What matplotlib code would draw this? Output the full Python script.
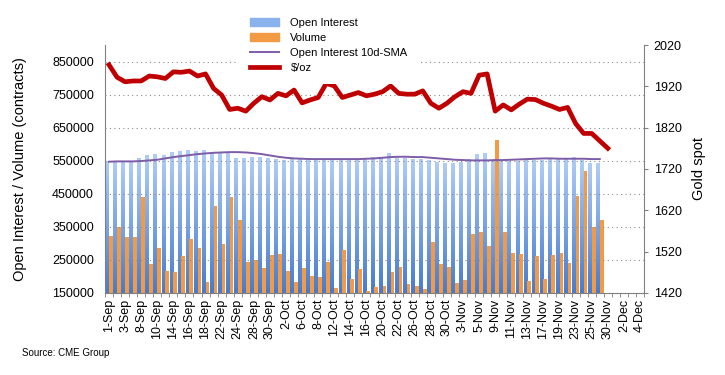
import numpy as np
import matplotlib.pyplot as plt
from matplotlib.colors import LinearSegmentedColormap
from matplotlib.patches import Patch
from matplotlib.lines import Line2D

plt.rcParams['font.family'] = ['Liberation Sans', 'DejaVu Sans']

# trading days shown on the category axis
dates = ['1-Sep', '2-Sep', '3-Sep', '4-Sep', '8-Sep', '9-Sep', '10-Sep', '11-Sep', '14-Sep', '15-Sep',
         '16-Sep', '17-Sep', '18-Sep', '21-Sep', '22-Sep', '23-Sep', '24-Sep', '25-Sep', '28-Sep', '29-Sep',
         '30-Sep', '1-Oct', '2-Oct', '5-Oct', '6-Oct', '7-Oct', '8-Oct', '9-Oct', '12-Oct', '13-Oct',
         '14-Oct', '15-Oct', '16-Oct', '19-Oct', '20-Oct', '21-Oct', '22-Oct', '23-Oct', '26-Oct', '27-Oct',
         '28-Oct', '29-Oct', '30-Oct', '2-Nov', '3-Nov', '4-Nov', '5-Nov', '6-Nov', '9-Nov', '10-Nov',
         '11-Nov', '12-Nov', '13-Nov', '16-Nov', '17-Nov', '18-Nov', '19-Nov', '20-Nov', '23-Nov', '24-Nov',
         '25-Nov', '27-Nov', '30-Nov', '1-Dec', '2-Dec', '3-Dec', '4-Dec']

open_interest = [548000, 548000, 549000, 548000, 556000, 565000, 568000, 567000, 574000, 577000,
                 580000, 577000, 580000, 573000, 574000, 572000, 558000, 558000, 561000, 561000,
                 556000, 555000, 551000, 553000, 556000, 550000, 555000, 555000, 555000, 554000,
                 554000, 554000, 555000, 561000, 561000, 571000, 558000, 558000, 555000, 553000,
                 551000, 545000, 541000, 541000, 545000, 553000, 568000, 571000, 551000, 548000,
                 548000, 548000, 551000, 551000, 551000, 553000, 555000, 555000, 560000, 551000,
                 543000, 543000]

volume = [321000, 351000, 318000, 319000, 439000, 238000, 285000, 218000, 212000, 262000,
          314000, 285000, 184000, 412000, 298000, 440000, 372000, 244000, 250000, 227000,
          265000, 269000, 218000, 183000, 225000, 201000, 199000, 245000, 166000, 280000,
          193000, 224000, 155000, 169000, 171000, 212000, 230000, 177000, 171000, 162000,
          305000, 238000, 230000, 181000, 189000, 328000, 333000, 293000, 613000, 334000,
          272000, 268000, 187000, 262000, 192000, 265000, 272000, 242000, 444000, 520000,
          351000, 371000]

oi_sma = [547000, 548000, 548000, 548000, 549000, 551000, 553000, 557000, 561000, 564000,
          567000, 570000, 572000, 574000, 575000, 576000, 576000, 575000, 573000, 570000,
          566000, 562000, 559000, 557000, 556000, 555000, 555000, 555000, 555000, 555000,
          555000, 555000, 556000, 557000, 559000, 561000, 562000, 562000, 561000, 561000,
          559000, 557000, 555000, 553000, 552000, 551000, 551000, 551000, 552000, 552000,
          553000, 554000, 555000, 556000, 557000, 557000, 556000, 556000, 556000, 556000,
          555000, 555000]

gold = [1972, 1942, 1931, 1933, 1933, 1945, 1943, 1939, 1955, 1954,
        1957, 1945, 1950, 1915, 1899, 1864, 1867, 1860, 1879, 1895,
        1887, 1903, 1897, 1911, 1880, 1887, 1893, 1927, 1921, 1893,
        1899, 1905, 1897, 1901, 1907, 1921, 1903, 1901, 1901, 1909,
        1879, 1867, 1879, 1895, 1907, 1903, 1947, 1950, 1860, 1875,
        1863, 1877, 1889, 1888, 1879, 1872, 1864, 1869, 1830, 1806,
        1806, 1788, 1770]

fig = plt.figure(figsize=(7.25, 3.75), dpi=100)
ax = fig.add_axes([0.1448, 0.2187, 0.7435, 0.6613])
ax2 = ax.twinx()

x = np.arange(len(dates))
n = len(open_interest)
w = 0.47
ymin, ymax = 150000, 900000

# open interest bars with a vertical blue gradient
blue_cmap = LinearSegmentedColormap.from_list('oi', ['#457bd0', '#b0cdf5'])
grad = np.linspace(1, 0, 256).reshape(-1, 1)
bars = ax.bar(x[:n] - w / 2, open_interest, width=w, color='none', zorder=2)
for b in bars:
    x0 = b.get_x()
    ax.imshow(grad, extent=[x0, x0 + w, ymin, b.get_height()], aspect='auto',
              cmap=blue_cmap, vmin=0, vmax=1, zorder=1.9, interpolation='bilinear')

ax.bar(x[:n] + w / 2, volume, width=w, color='#f39a44', zorder=2)
ax.plot(x[:n], oi_sma, color='#7d5ca8', lw=1.4, zorder=4)
ax2.plot(x[:len(gold)], gold, color='#c00000', lw=3.4, solid_joinstyle='round', zorder=5)

ax.set_xlim(-0.5, len(dates) - 0.5)
ax.set_ylim(ymin, ymax)
ax.set_yticks(np.arange(150000, 850001, 100000))
ax2.set_ylim(1420, 2020)
ax2.set_yticks(np.arange(1420, 2021, 100))

ax.set_axisbelow(False)
ax.yaxis.grid(True, linestyle=(0, (1, 3)), color='#8c8c8c', lw=0.8)

ax.set_xticks(x[::2])
ax.set_xticklabels(dates[::2], rotation=90, fontsize=9)
ax.set_xticks(np.arange(-0.5, len(dates), 1), minor=True)
ax.tick_params(axis='x', which='major', length=0, pad=4)
ax.tick_params(axis='x', which='minor', length=3, color='#808080')
ax.tick_params(axis='y', length=0, pad=8, labelsize=9)
ax2.tick_params(axis='y', length=3, pad=4, labelsize=9, color='#808080')

for s in ['top', 'right']:
    ax.spines[s].set_visible(False)
ax2.spines['top'].set_visible(False)
ax2.spines['left'].set_visible(False)
ax2.spines['bottom'].set_visible(False)
for s in [ax.spines['left'], ax.spines['bottom'], ax2.spines['right']]:
    s.set_color('#808080')

ax.set_ylabel('Open Interest / Volume (contracts)', fontsize=10.5)
ax.yaxis.set_label_coords(-0.145, 0.5)
ax2.set_ylabel('Gold spot', fontsize=10.5)
ax2.yaxis.set_label_coords(1.089, 0.5)

handles = [Patch(color='#8ab2ec'), Patch(color='#f39a44'),
           Line2D([], [], color='#7d5ca8', lw=1.4), Line2D([], [], color='#c00000', lw=3.4)]
labels = ['Open Interest', 'Volume', 'Open Interest 10d-SMA', '$/oz']
leg = fig.legend(handles, labels, loc='upper left', bbox_to_anchor=(0.33, 0.981),
                 fontsize=8, frameon=True, facecolor='white', edgecolor='none', framealpha=1,
                 fancybox=False, borderpad=1.0, borderaxespad=0, handlelength=2.6,
                 handletextpad=1.0, labelspacing=0.43)

fig.text(22 / 725, 1 - 353 / 375, 'Source: CME Group', fontsize=7, va='center')

fig.savefig('out.png', dpi=100)
